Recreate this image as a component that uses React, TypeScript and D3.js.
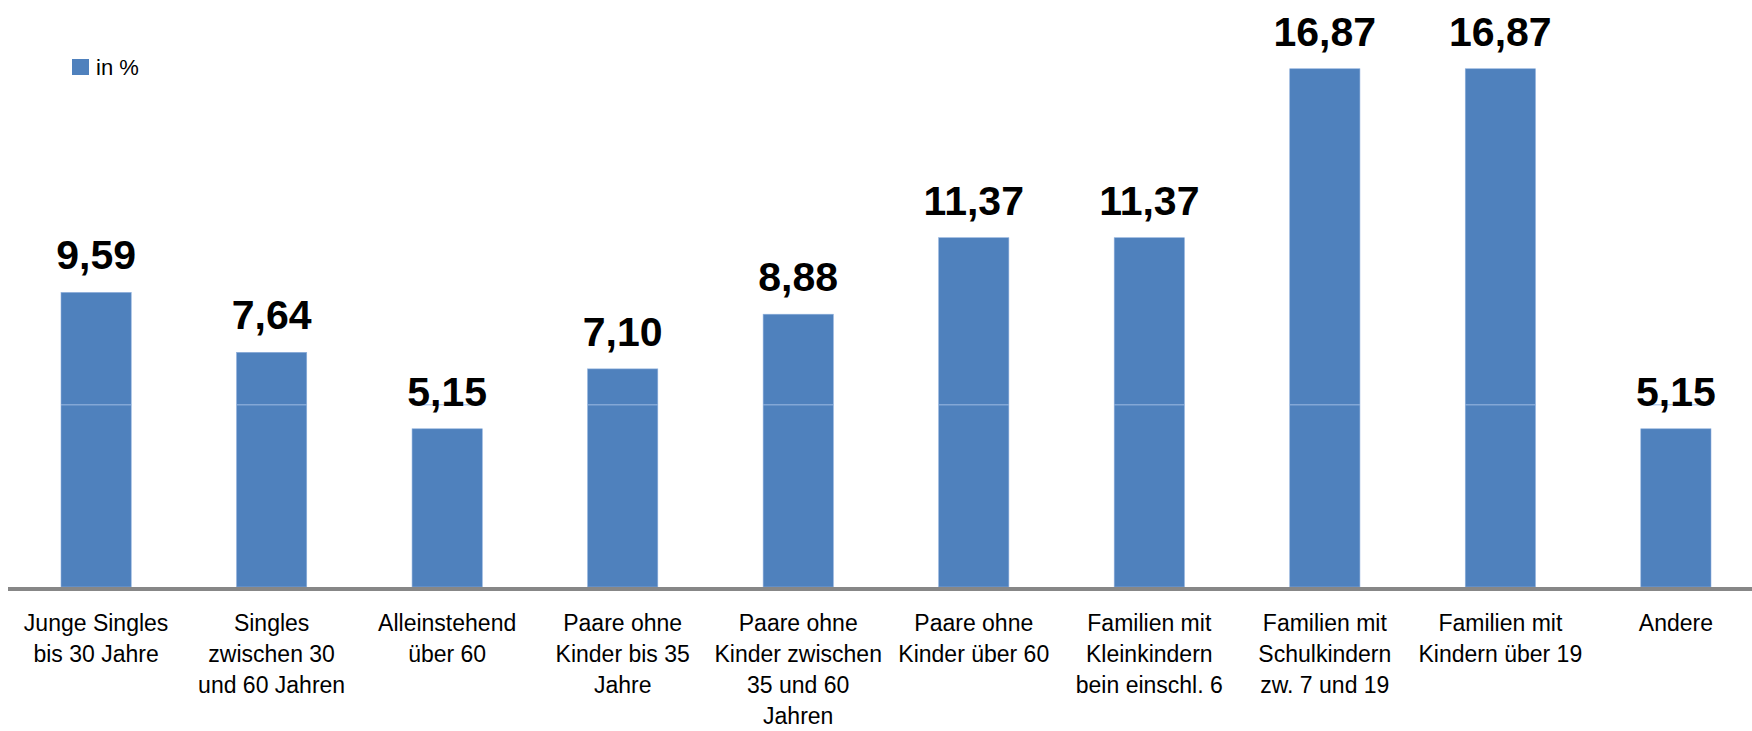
import React from 'react';
import * as d3 from 'd3';

// Haushaltstypen, Anteil in %
const categories: string[][] = [
  ['Junge Singles', 'bis 30 Jahre'],
  ['Singles', 'zwischen 30', 'und 60 Jahren'],
  ['Alleinstehend', 'über 60'],
  ['Paare ohne', 'Kinder bis 35', 'Jahre'],
  ['Paare ohne', 'Kinder zwischen', '35 und 60', 'Jahren'],
  ['Paare ohne', 'Kinder über 60'],
  ['Familien mit', 'Kleinkindern', 'bein einschl. 6'],
  ['Familien mit', 'Schulkindern', 'zw. 7 und 19'],
  ['Familien mit', 'Kindern über 19'],
  ['Andere'],
];
const values: number[] = [9.59, 7.64, 5.15, 7.1, 8.88, 11.37, 11.37, 16.87, 16.87, 5.15];
const seriesName = 'in %';
const gridValue = 5.93; // faint line showing through the bars

const width = 1752;
const height = 731;
const font = '"Liberation Sans", Arial, sans-serif';

export default function App() {
  const ids = categories.map((_, i) => String(i));

  const x = d3.scaleBand<string>()
    .domain(ids)
    .range([61, 1711])
    .paddingInner(0.6)
    .paddingOuter(0);

  const y = d3.scaleLinear()
    .domain([0, 18])
    .range([587, 587 - 18 * 30.72]);

  const fmt = (v: number) => d3.format('.2f')(v).replace('.', ',');

  return (
    <svg
      width={width}
      height={height}
      style={{ position: 'absolute', left: 0, top: 0, display: 'block', background: '#fff' }}
    >
      <defs>
        <clipPath id="legendClip">
          <rect x={60} y={40} width={80} height={50} />
        </clipPath>
      </defs>

      {/* legend */}
      <rect x={72} y={59} width={17} height={16} fill="#4F81BD" />
      <text
        x={96}
        y={75}
        fontFamily={font}
        fontSize={22}
        fill="#000"
        clipPath="url(#legendClip)"
      >
        {seriesName}
      </text>

      {/* bars */}
      {values.map((v, i) => (
        <g key={i}>
          <rect
            x={x(ids[i])}
            y={y(v)}
            width={x.bandwidth()}
            height={y(0) - y(v)}
            fill="#4F81BD"
            stroke="#8fb0dc"
            strokeWidth={0.6}
          />
          <line
            x1={x(ids[i])!}
            x2={x(ids[i])! + x.bandwidth()}
            y1={y(gridValue)}
            y2={y(gridValue)}
            stroke="#9dbbe3"
            strokeWidth={1}
          />
          <text
            x={x(ids[i])! + x.bandwidth() / 2}
            y={y(v) - 23}
            textAnchor="middle"
            fontFamily={font}
            fontWeight="bold"
            fontSize={41}
            fill="#000"
          >
            {fmt(v)}
          </text>
        </g>
      ))}

      {/* x axis line */}
      <line x1={8} x2={width} y1={589} y2={589} stroke="#878787" strokeWidth={4} />

      {/* category labels */}
      {categories.map((lines, i) => (
        <text
          key={i}
          x={x(ids[i])! + x.bandwidth() / 2}
          textAnchor="middle"
          fontFamily={font}
          fontSize={23}
          fill="#000"
        >
          {lines.map((line, j) => (
            <tspan key={j} x={x(ids[i])! + x.bandwidth() / 2} y={631 + j * 31}>
              {line}
            </tspan>
          ))}
        </text>
      ))}
    </svg>
  );
}
